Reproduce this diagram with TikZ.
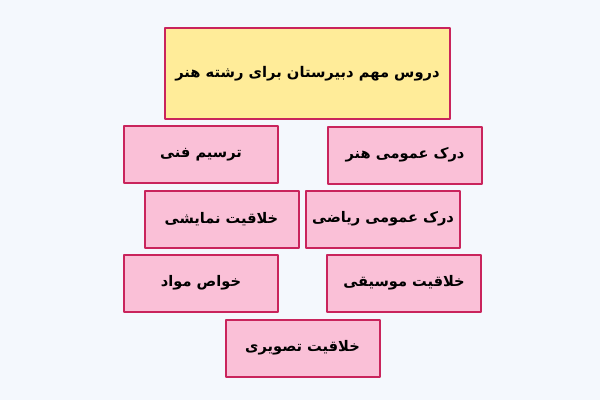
\documentclass[tikz,border=0pt]{standalone}
\usepackage{fontspec}
\newfontfamily\arabicfont[Script=Arabic]{DejaVu Sans}
\TeXXeTstate=1
\definecolor{bgblue}{HTML}{F4F8FD}
\definecolor{titleyellow}{HTML}{FFEC99}
\definecolor{itempink}{HTML}{FAC0D7}
\definecolor{edgered}{HTML}{C9245C}
\newcommand{\fa}[1]{\arabicfont\bfseries\beginR #1\endR}
\begin{document}
\begin{tikzpicture}[x=1pt, y=-1pt,
    box/.style={draw=edgered, line width=2pt, line join=round, inner sep=0pt,
                font=\fontsize{14.6}{17}\selectfont},
    titlebox/.style={box, fill=titleyellow, minimum width=285pt, minimum height=91pt,
                font=\fontsize{14.7}{17}\selectfont},
    itembox/.style={box, fill=itempink, minimum width=154pt, minimum height=57pt}]
    \fill[bgblue] (0,0) rectangle (600,400);
    \useasboundingbox (0,0) rectangle (600,400);
    \node[titlebox] (title) at (307.5, 73.5) {\fa{دروس مهم دبیرستان برای رشته هنر}};
    \node[itembox] (tarsim) at (201, 154.5) {\fa{ترسیم فنی}};
    \node[itembox] (honar) at (405, 155) {\fa{درک عمومی هنر}};
    \node[itembox] (namayeshi) at (221.5, 219.5) {\fa{خلاقیت نمایشی}};
    \node[itembox] (riazi) at (383, 219) {\fa{درک عمومی ریاضی}};
    \node[itembox] (khavas) at (201, 283) {\fa{خواص مواد}};
    \node[itembox] (musighi) at (404, 283) {\fa{خلاقیت موسیقی}};
    \node[itembox] (tasviri) at (302.5, 348) {\fa{خلاقیت تصویری}};
\end{tikzpicture}
\end{document}
